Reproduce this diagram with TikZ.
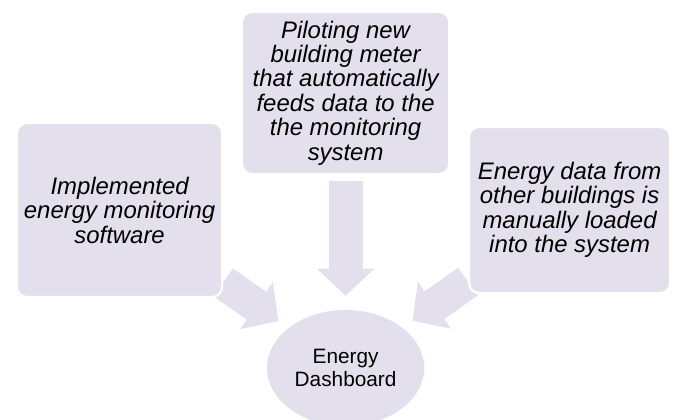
\documentclass[tikz,border=0pt]{standalone}
\usepackage{fontspec}
\setmainfont{Liberation Sans}
\usetikzlibrary{shapes.geometric,arrows.meta}
\definecolor{lavender}{HTML}{E4DFEC}
\pgfdeclarelayer{bg}
\pgfsetlayers{bg,main}
\tikzset{
  inbox/.style={fill=lavender, draw=white, line width=1.5pt, rounded corners=0.25cm,
    align=center, font=\fontsize{17}{17.4}\selectfont\itshape, inner sep=0pt},
  blockarrow/.style={draw=lavender, line width=0.85cm,
    -{Triangle[width=1.4cm, length=0.675cm]}}
}

\begin{document}
\begin{tikzpicture}
  \useasboundingbox (0,0) rectangle (16.875,10.5);

  \node [inbox, minimum width=5.125cm, minimum height=4.35cm](soft) at (2.99,5.25)
    {Implemented\\energy monitoring\\software};
  \node [inbox, minimum width=5.175cm, minimum height=4.05cm](meter) at (8.64,8.175)
    {Piloting new\\building meter\\that automatically\\feeds data to the\\the monitoring\\system};
  \node [inbox, minimum width=5.025cm, minimum height=4.15cm](manual) at (14.24,5.25)
    {Energy data from\\other buildings is\\manually loaded\\into the system};

  \node [ellipse, fill=lavender, minimum width=3.8cm, minimum height=2.9cm, align=center,
    font=\fontsize{14.8}{16.2}\selectfont](dash) at (8.64,1.3) {Energy\\Dashboard};

  % inputs into the dashboard
  \begin{pgfonlayer}{bg}
    \draw [blockarrow, shorten >=0.3cm] (soft) -- (dash);
    \draw [blockarrow, shorten <=0.15cm, shorten >=0.35cm] (meter) -- (dash);
    \draw [blockarrow, shorten >=0.3cm] (manual) -- (dash);
  \end{pgfonlayer}
\end{tikzpicture}
\end{document}
